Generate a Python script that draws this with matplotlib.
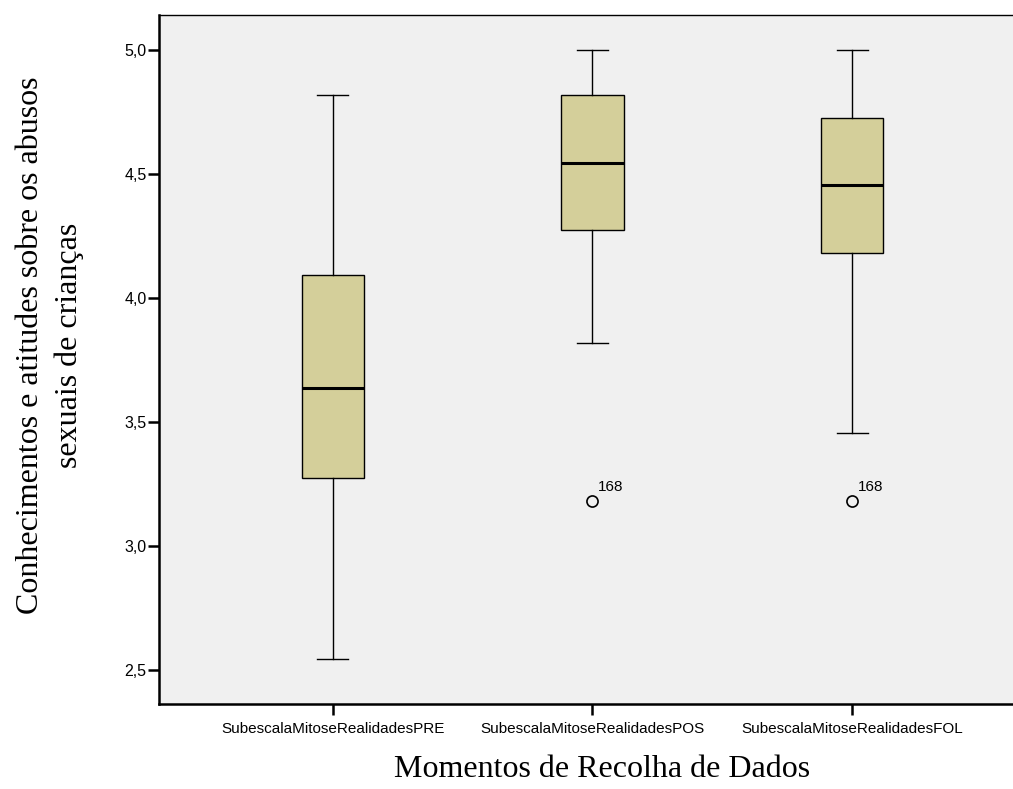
import matplotlib
matplotlib.use("Agg")
import matplotlib.pyplot as plt

# Summary statistics per measurement moment (scale 1-5)
categories = ["SubescalaMitoseRealidadesPRE", "SubescalaMitoseRealidadesPOS", "SubescalaMitoseRealidadesFOL"]
whisker_low = [2.545, 3.818, 3.455]
q1 = [3.273, 4.273, 4.182]
median = [3.636, 4.545, 4.455]
q3 = [4.091, 4.818, 4.727]
whisker_high = [4.818, 5.0, 5.0]
outliers = [[], [3.182], [3.182]]
outlier_ids = [[], ["168"], ["168"]]
yticks = [2.5, 3.0, 3.5, 4.0, 4.5, 5.0]

W, H = 1013, 789
fig = plt.figure(figsize=(W / 100, H / 100), dpi=100)
ax = fig.add_axes([159 / W, (H - 704) / H, (W - 159) / W, (704 - 15) / H])
ax.set_facecolor("#F0F0F0")

stats = []
for i, name in enumerate(categories):
    stats.append(dict(label=name, whislo=whisker_low[i], q1=q1[i], med=median[i],
                      q3=q3[i], whishi=whisker_high[i], fliers=outliers[i]))

positions = [1, 2, 3]
ax.bxp(stats, positions=positions, widths=0.24, patch_artist=True, showfliers=True,
       boxprops=dict(facecolor="#D4CF9A", edgecolor="black", linewidth=1.0),
       medianprops=dict(color="black", linewidth=2.2),
       whiskerprops=dict(color="black", linewidth=1.0),
       capprops=dict(color="black", linewidth=1.0),
       capwidths=0.12,
       flierprops=dict(marker="o", markerfacecolor="none", markeredgecolor="black",
                       markersize=8, markeredgewidth=1.2))

for pos, vals, ids in zip(positions, outliers, outlier_ids):
    for v, t in zip(vals, ids):
        ax.annotate(t, (pos, v), xytext=(4, 5), textcoords="offset points",
                    fontsize=11, family="Liberation Sans", ha="left", va="bottom")

ax.set_xlim(0.331, 3.619)
ax.set_ylim(2.363, 5.141)
ax.set_yticks(yticks)
ax.set_yticklabels([f"{v:.1f}".replace(".", ",") for v in yticks],
                   family="Liberation Sans", fontsize=11.5)
ax.set_xticks(positions)
ax.set_xticklabels(categories, family="Liberation Sans", fontsize=11)
ax.tick_params(axis="both", length=8, width=1.8, color="black")
ax.tick_params(axis="y", pad=1)
ax.tick_params(axis="x", pad=5)

ax.spines["right"].set_visible(False)
ax.spines["top"].set_linewidth(1.0)
for side in ["left", "bottom"]:
    ax.spines[side].set_linewidth(1.8)

fig.text(602 / W, 5 / H, "Momentos de Recolha de Dados",
         family="Liberation Serif", fontsize=23, ha="center", va="bottom")
fig.text(50 / W, 1 - 345 / H, "Conhecimentos e atitudes sobre os abusos\nsexuais de crianças",
         family="Liberation Serif", fontsize=23, ha="center", va="center",
         rotation=90, multialignment="center", linespacing=1.45)

fig.savefig("out.png", dpi=100)
